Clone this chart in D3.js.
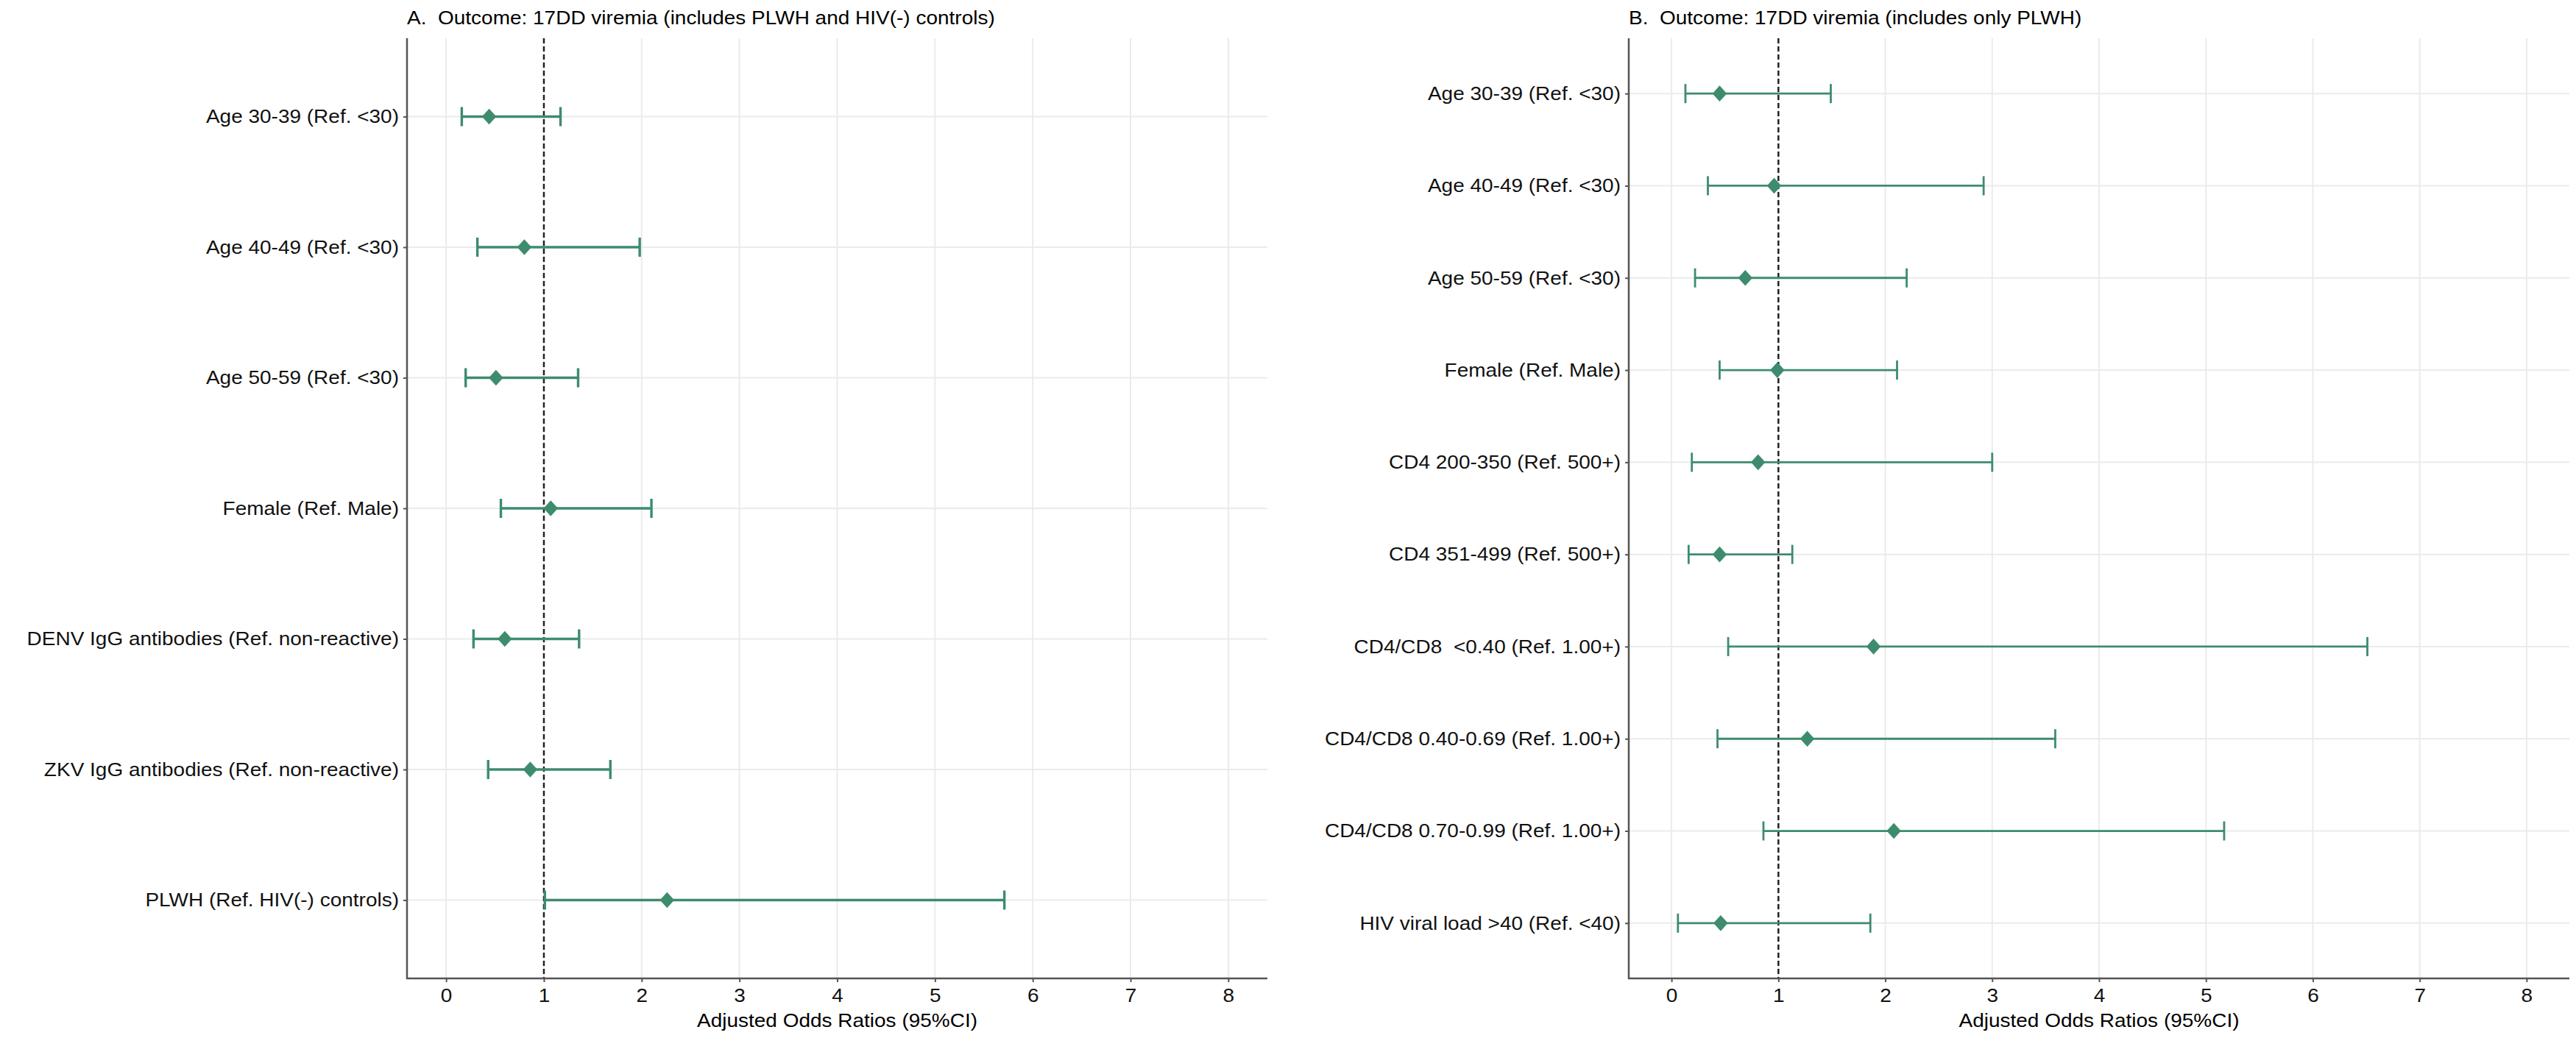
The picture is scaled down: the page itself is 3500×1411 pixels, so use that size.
<!DOCTYPE html>
<html>
<head>
<meta charset="utf-8">
<script src="https://cdn.jsdelivr.net/npm/d3@7"></script>
<style>
  html, body { margin: 0; padding: 0; background: #fff; }
  svg text { font-family: "Liberation Sans", Arial, sans-serif; white-space: pre; }
</style>
</head>
<body>
<svg id="chart" width="3500" height="1411"></svg>
<script>
// panel A: PLWH and HIV(-) controls
var labelsA = [
  'Age 30-39 (Ref. <30)',
  'Age 40-49 (Ref. <30)',
  'Age 50-59 (Ref. <30)',
  'Female (Ref. Male)',
  'DENV IgG antibodies (Ref. non-reactive)',
  'ZKV IgG antibodies (Ref. non-reactive)',
  'PLWH (Ref. HIV(-) controls)'
];
var orA = [0.44, 0.80, 0.51, 1.07, 0.60, 0.86, 2.26];
var loA = [0.16, 0.32, 0.20, 0.56, 0.28, 0.43, 1.01];
var hiA = [1.17, 1.98, 1.35, 2.10, 1.36, 1.68, 5.71];

// panel B: only PLWH
var labelsB = [
  'Age 30-39 (Ref. <30)',
  'Age 40-49 (Ref. <30)',
  'Age 50-59 (Ref. <30)',
  'Female (Ref. Male)',
  'CD4 200-350 (Ref. 500+)',
  'CD4 351-499 (Ref. 500+)',
  'CD4/CD8  <0.40 (Ref. 1.00+)',
  'CD4/CD8 0.40-0.69 (Ref. 1.00+)',
  'CD4/CD8 0.70-0.99 (Ref. 1.00+)',
  'HIV viral load >40 (Ref. <40)'
];
var orB = [0.45, 0.96, 0.69, 0.99, 0.81, 0.45, 1.89, 1.27, 2.08, 0.46];
var loB = [0.13, 0.34, 0.22, 0.45, 0.19, 0.16, 0.53, 0.43, 0.86, 0.06];
var hiB = [1.49, 2.92, 2.20, 2.11, 3.00, 1.13, 6.51, 3.59, 5.17, 1.86];

var xTicks = [0, 1, 2, 3, 4, 5, 6, 7, 8];
var xDomain = [-0.4, 8.4];
var refLine = 1;

var titleA = 'A.  Outcome: 17DD viremia (includes PLWH and HIV(-) controls)';
var titleB = 'B.  Outcome: 17DD viremia (includes only PLWH)';
var xTitle = 'Adjusted Odds Ratios (95%CI)';

var GREEN = '#3d8c6e', GRID = '#ebebeb', AXIS = '#555', FS = 26;
var SX = 1.077; // the source picture is a little wider than tall in its type

// filled diamond a bit taller than wide, like pch 18
var diamond = {
  draw: function(ctx, size) {
    var h = Math.sqrt(size) / 2, w = h * 0.9;
    ctx.moveTo(0, -h); ctx.lineTo(w, 0); ctx.lineTo(0, h); ctx.lineTo(-w, 0); ctx.closePath();
  }
};

// widen text horizontally around its own x anchor
function stretch(sel) {
  sel.each(function() {
    var t = d3.select(this), x = +t.attr('x') || 0;
    t.attr('x', x / SX).attr('transform', 'scale(' + SX + ',1)');
  });
}

var svg = d3.select('#chart');

function panel(opts) {
  var x = d3.scaleLinear().domain(xDomain).range([opts.left, opts.right]);
  var y = d3.scalePoint().domain(opts.labels).range([opts.top, opts.bottom]).padding(0.6);
  var g = svg.append('g');
  var rows = opts.labels.map(function(l, i) {
    return { label: l, or: opts.or[i], lo: opts.lo[i], hi: opts.hi[i] };
  });

  // grid
  g.append('g').selectAll('line').data(xTicks).enter().append('line')
    .attr('x1', function(d) { return x(d); }).attr('x2', function(d) { return x(d); })
    .attr('y1', opts.top).attr('y2', opts.bottom)
    .attr('stroke', GRID).attr('stroke-width', 2);
  g.append('g').selectAll('line').data(opts.labels).enter().append('line')
    .attr('x1', opts.left).attr('x2', opts.right)
    .attr('y1', function(d) { return y(d); }).attr('y2', function(d) { return y(d); })
    .attr('stroke', GRID).attr('stroke-width', 2);

  // reference line
  g.append('line')
    .attr('x1', x(refLine)).attr('x2', x(refLine))
    .attr('y1', opts.top).attr('y2', opts.bottom)
    .attr('stroke', '#222').attr('stroke-width', 2.5).attr('stroke-dasharray', '7,4');

  // error bars
  var eb = g.append('g').selectAll('g').data(rows).enter().append('g')
    .attr('stroke', GREEN).attr('stroke-width', opts.lw);
  eb.append('line')
    .attr('x1', function(d) { return x(d.lo); }).attr('x2', function(d) { return x(d.hi); })
    .attr('y1', function(d) { return y(d.label); }).attr('y2', function(d) { return y(d.label); });
  ['lo', 'hi'].forEach(function(k) {
    eb.append('line')
      .attr('x1', function(d) { return x(d[k]); }).attr('x2', function(d) { return x(d[k]); })
      .attr('y1', function(d) { return y(d.label) - 13; }).attr('y2', function(d) { return y(d.label) + 13; });
  });
  g.append('g').selectAll('path').data(rows).enter().append('path')
    .attr('d', d3.symbol().type(diamond).size(470))
    .attr('transform', function(d) { return 'translate(' + x(d.or) + ',' + y(d.label) + ')'; })
    .attr('fill', GREEN);

  // axes
  var xa = g.append('g').attr('transform', 'translate(0,' + opts.bottom + ')')
    .call(d3.axisBottom(x).tickValues(xTicks).tickFormat(d3.format('d')).tickSizeOuter(0).tickSize(5).tickPadding(9));
  var ya = g.append('g').attr('transform', 'translate(' + opts.left + ',0)')
    .call(d3.axisLeft(y).tickSizeOuter(0).tickSize(5).tickPadding(6));
  [xa, ya].forEach(function(a) {
    a.select('.domain').attr('stroke', AXIS).attr('stroke-width', 2.5);
    a.selectAll('.tick line').attr('stroke', AXIS).attr('stroke-width', 2);
    a.selectAll('.tick text').attr('font-size', FS).attr('fill', '#111')
      .style('font-family', '"Liberation Sans", Arial, sans-serif')
      .call(stretch);
  });
  // ggplot axis lines run to the panel edge
  xa.select('.domain').attr('d', 'M' + (opts.left - 1) + ',0H' + opts.right);
  ya.select('.domain').attr('d', 'M0,' + opts.top + 'V' + (opts.bottom + 1));

  g.append('text').attr('x', opts.left).attr('y', 33)
    .attr('font-size', FS).attr('fill', '#000').text(opts.title).call(stretch);
  g.append('text').attr('x', (opts.left + opts.right) / 2).attr('y', 1396)
    .attr('text-anchor', 'middle').attr('font-size', FS).attr('fill', '#000').text(xTitle).call(stretch);
}

panel({ labels: labelsA, or: orA, lo: loA, hi: hiA, title: titleA,
        left: 553, right: 1722, top: 52, bottom: 1330, lw: 3.4 });
panel({ labels: labelsB, or: orB, lo: loB, hi: hiB, title: titleB,
        left: 2213, right: 3491, top: 52, bottom: 1330, lw: 2.8 });
</script>
</body>
</html>
